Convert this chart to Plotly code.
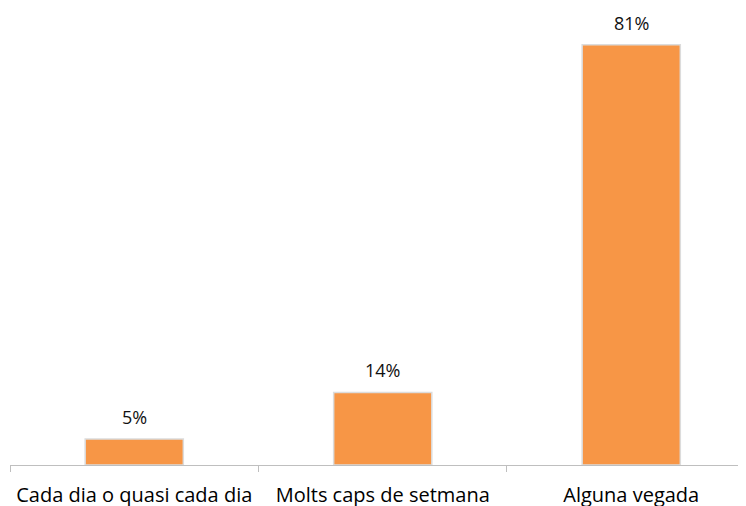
import plotly.graph_objects as go

categories = ["Cada dia o quasi cada dia", "Molts caps de setmana", "Alguna vegada"]
values = [5, 14, 81]
labels = ["5%", "14%", "81%"]

fig = go.Figure()
fig.add_trace(go.Bar(
    x=categories, y=values,
    marker=dict(color="#F79646", line=dict(color="#dcdcdc", width=1.5)),
    width=0.395,
))
for c, v, t in zip(categories, values, labels):
    fig.add_annotation(x=c, y=v, text=t, showarrow=False, yanchor="bottom",
                       yshift=8, font=dict(family="Open Sans", size=18, color="#111111"))

# page body has a default 8px margin: compensate so the plot sits where the reference has it
fig.update_layout(
    width=746, height=506,
    margin=dict(l=2, r=0, t=0, b=49, autoexpand=False),
    paper_bgcolor="white", plot_bgcolor="white",
    showlegend=False,
    xaxis=dict(range=[-0.5, 2.494], showline=True, linecolor="#bfbfbf", linewidth=1,
               ticks="outside", tickson="boundaries", ticklen=6, tickcolor="#bfbfbf",
               ticklabelstandoff=12,
               tickfont=dict(family="Open Sans", size=20, color="#000000"), showgrid=False),
    yaxis=dict(range=[0, 88.1], visible=False, showgrid=False),
)
fig.write_html("out.html")
